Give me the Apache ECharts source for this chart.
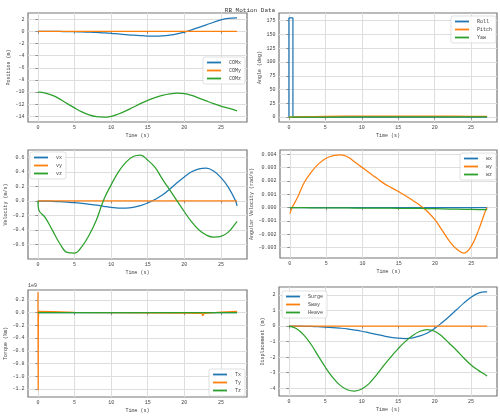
<!DOCTYPE html>
<html>
<head>
<meta charset="utf-8">
<script src="https://cdn.jsdelivr.net/npm/echarts@6/dist/echarts.min.js"></script>
<style>
	html, body { margin: 0; padding: 0; background: #fff; }
	#chart { width: 500px; height: 416px; }
</style>
</head>
<body>
<div id="chart"></div>
<script>
	// time base (s)
	var t = [0, 1, 2, 3, 4, 5, 6, 7, 8, 9, 10, 11, 12, 13, 14, 15, 16, 17, 18, 19, 20, 21, 22, 23, 24, 25, 26, 27, 27.2];
	var tEnds = [0, 27.2];

	// position
	var comX = [0, 0, -0.01, -0.02, -0.04, -0.06, -0.09, -0.13, -0.18, -0.25, -0.33, -0.43, -0.53, -0.63, -0.71, -0.77, -0.79, -0.74, -0.62, -0.42, -0.12, 0.25, 0.65, 1.07, 1.5, 1.88, 2.12, 2.2, 2.2];
	var comY = [0, 0];
	var comZ = [-10, -10.15, -10.55, -11.15, -11.9, -12.6, -13.25, -13.75, -14.05, -14.12, -13.98, -13.6, -13.1, -12.5, -11.9, -11.35, -10.9, -10.55, -10.3, -10.18, -10.25, -10.55, -10.98, -11.45, -11.9, -12.3, -12.65, -13.0, -13.1];

	// angles
	var tRoll = [0, 0, 0.55, 0.55, 27.2];
	var roll = [0, 180, 180, 0, 0];
	var tPitch = [0, 2, 5, 10, 15, 20, 25, 27.2];
	var pitch = [0, 0.6, 1.2, 1.6, 1.8, 1.7, 1.4, 1.3];
	var yaw = [0, 0, 0, 0.1, 0.1, 0.1, 0.1, 0.1];

	// velocity
	var vx = [0, -0.003, -0.007, -0.012, -0.018, -0.025, -0.035, -0.047, -0.06, -0.075, -0.09, -0.1, -0.1, -0.09, -0.065, -0.03, 0.02, 0.08, 0.16, 0.25, 0.33, 0.4, 0.44, 0.45, 0.41, 0.32, 0.19, 0.0, -0.07];
	var vy = [0, 0];
	var tVz = [0, 0.1, 1, 2, 3, 4, 5, 6, 7, 8, 9, 10, 11, 12, 13, 14, 15, 16, 17, 18, 19, 20, 21, 22, 23, 24, 25, 26, 27, 27.2];
	var vz = [0, -0.12, -0.23, -0.41, -0.59, -0.71, -0.72, -0.63, -0.47, -0.26, 0.02, 0.22, 0.40, 0.53, 0.61, 0.63, 0.56, 0.46, 0.3, 0.15, 0, -0.15, -0.29, -0.4, -0.47, -0.5, -0.49, -0.43, -0.31, -0.28];

	// angular velocity
	var wx = [0, 0];
	var tWy = [0, 0.3, 1, 2, 3, 4, 5, 6, 7, 8, 9, 10, 11, 12, 13, 14, 15, 16, 17, 18, 19, 20, 21, 22, 23, 24, 25, 26, 27, 27.2];
	var wy = [-0.00045, 0, 0.0007, 0.0019, 0.0027, 0.0033, 0.0037, 0.0039, 0.00395, 0.0038, 0.0034, 0.003, 0.0026, 0.0022, 0.0018, 0.0015, 0.0012, 0.00088, 0.00052, 0.00015, -0.0003, -0.0009, -0.0017, -0.0025, -0.0031, -0.0034, -0.0029, -0.0017, -0.0002, 0];
	var wz = [0, 0, 0, -0.00001, -0.00001, -0.00001, -0.00002, -0.00002, -0.00002, -0.00003, -0.00003, -0.00003, -0.00004, -0.00004, -0.00004, -0.00005, -0.00005, -0.00006, -0.00006, -0.00007, -0.00008, -0.00009, -0.0001, -0.00011, -0.00012, -0.00013, -0.00014, -0.00015, -0.00015];

	// torque (Nm)
	var tx = [0, 0];
	var tTy = [0, 0, 0.03, 0.06, 0.1, 0.3, 2, 5, 10, 15, 20, 22.4, 22.5, 22.6, 22.7, 25, 27.2];
	var ty = [0, 3.2e8, -1.22e9, -1e8, 2e7, 2e7, 1.5e7, 5e6, 0, -3e6, -8e6, -1e7, -5e7, -5e7, -1e7, 1e7, 2e7];
	var tz = [0, 0];

	// displacement
	var surge = [0, 0, -0.01, -0.02, -0.04, -0.06, -0.09, -0.13, -0.18, -0.25, -0.33, -0.43, -0.53, -0.63, -0.72, -0.78, -0.8, -0.75, -0.63, -0.44, -0.15, 0.22, 0.62, 1.05, 1.48, 1.86, 2.12, 2.2, 2.2];
	var sway = [0, 0];
	var heave = [0, -0.15, -0.55, -1.15, -1.9, -2.65, -3.3, -3.8, -4.1, -4.18, -4.05, -3.7, -3.15, -2.55, -1.98, -1.45, -0.98, -0.6, -0.33, -0.22, -0.33, -0.65, -1.1, -1.55, -2.05, -2.5, -2.85, -3.15, -3.22];

	// tick labels
	var xTicks = [0, 5, 10, 15, 20, 25];
	var posTicks = [-14, -12, -10, -8, -6, -4, -2, 0, 2];
	var angTicks = [0, 25, 50, 75, 100, 125, 150, 175];
	var velTicks = [-0.6, -0.4, -0.2, 0, 0.2, 0.4, 0.6];
	var angVelTicks = [-0.003, -0.002, -0.001, 0, 0.001, 0.002, 0.003, 0.004];
	var torqueTicks = [-1.2e9, -1.0e9, -0.8e9, -0.6e9, -0.4e9, -0.2e9, 0, 0.2e9];
	var dispTicks = [-4, -3, -2, -1, 0, 1, 2];

	var C1 = '#1f77b4', C2 = '#ff7f0e', C3 = '#2ca02c';
	var FONT = 'Liberation Mono';
	var TXT = '#444';

	function pairs(xs, ys) {
		return xs.map(function (x, i) { return [x, ys[i]]; });
	}

	var grids = [], xAxes = [], yAxes = [], legends = [], series = [];

	function panel(box, yMin, yMax, yTicks, yFmt, yName, yGap, names, legendPos, lines, smooth) {
		var i = grids.length;
		grids.push({ left: box[0], top: box[1], width: box[2], height: box[3], show: true, borderColor: '#777', borderWidth: 1.2, backgroundColor: '#fff' });
		xAxes.push({
			type: 'value', gridIndex: i, min: -1.36, max: 28.56,
			name: 'Time (s)', nameLocation: 'middle', nameGap: 11,
			nameTextStyle: { fontFamily: FONT, fontSize: 5, color: TXT },
			axisLine: { show: false },
			axisTick: { show: true, length: 2.5, customValues: xTicks, lineStyle: { color: '#777', width: 0.8 } },
			axisLabel: { customValues: xTicks, fontFamily: FONT, fontSize: 5, color: TXT, margin: 3.5 },
			splitLine: { show: true, lineStyle: { color: '#dedede', width: 1 } }
		});
		yAxes.push({
			type: 'value', gridIndex: i, min: yMin, max: yMax,
			name: yName, nameLocation: 'middle', nameGap: yGap, nameRotate: 90,
			nameTextStyle: { fontFamily: FONT, fontSize: 5, color: TXT },
			axisLine: { show: false },
			axisTick: { show: true, length: 2.5, customValues: yTicks, lineStyle: { color: '#777', width: 0.8 } },
			axisLabel: { customValues: yTicks, formatter: yFmt, fontFamily: FONT, fontSize: 5, color: TXT, margin: 3.5 },
			splitLine: { show: true, lineStyle: { color: '#dedede', width: 1 } }
		});
		var lg = {
			data: names, orient: 'vertical', icon: 'rect', itemWidth: 14, itemHeight: 1.8, itemGap: 3,
			padding: [3, 4, 3, 4], borderColor: '#ccc', borderWidth: 0.6, borderRadius: 2,
			backgroundColor: 'rgba(255,255,255,0.85)',
			textStyle: { fontFamily: FONT, fontSize: 5, color: TXT, padding: [0, 0, 0, 3] }
		};
		for (var k in legendPos) lg[k] = legendPos[k];
		legends.push(lg);
		var cols = [C1, C2, C3];
		lines.forEach(function (d, j) {
			series.push({
				name: names[j], type: 'line', xAxisIndex: i, yAxisIndex: i,
				data: d, showSymbol: false, smooth: smooth[j] ? 0.4 : false,
				lineStyle: { color: cols[j], width: 1.25 }, itemStyle: { color: cols[j] }, z: 2 + j
			});
		});
	}

	function fmtInt(v) { return String(Math.round(v)); }

	panel([28, 13, 219, 109], -14.92, 3.02, posTicks, fmtInt, 'Position (m)', 15,
		['COMx', 'COMy', 'COMz'], { right: 255, top: 57 },
		[pairs(t, comX), pairs(tEnds, comY), pairs(t, comZ)], [1, 0, 1]);
	panel([279, 13, 218, 109], -9, 189, angTicks, fmtInt, 'Angle (deg)', 15,
		['Roll', 'Pitch', 'Yaw'], { right: 4, top: 16 },
		[pairs(tRoll, roll), pairs(tPitch, pitch), pairs(tPitch, yaw)], [0, 1, 0]);
	panel([28, 150, 219, 109], -0.8, 0.7, velTicks, function (v) { return v.toFixed(1); }, 'Velocity (m/s)', 16,
		['vx', 'vy', 'vz'], { left: 30, top: 152 },
		[pairs(t, vx), pairs(tEnds, vy), pairs(tVz, vz)], [1, 0, 1]);
	panel([280, 150, 217, 108], -0.00377, 0.00432, angVelTicks, function (v) { return v.toFixed(3); }, 'Angular Velocity (rad/s)', 21,
		['wx', 'wy', 'wz'], { right: 4, top: 153 },
		[pairs(tEnds, wx), pairs(tWy, wy), pairs(t, wz)], [0, 1, 0]);
	panel([28, 290, 219, 107], -1.327e9, 0.357e9, torqueTicks, function (v) { return (v / 1e9).toFixed(1); }, 'Torque (Nm)', 16,
		['Tx', 'Ty', 'Tz'], { right: 255, top: 369 },
		[pairs(tEnds, tx), pairs(tTy, ty), pairs(tEnds, tz)], [0, 0, 0]);
	panel([279, 287, 218, 109], -4.5, 2.52, dispTicks, fmtInt, 'Displacement (m)', 12,
		['Surge', 'Sway', 'Heave'], { left: 282, top: 291 },
		[pairs(t, surge), pairs(tEnds, sway), pairs(t, heave)], [1, 0, 1]);

	var chart = echarts.init(document.getElementById('chart'), null, { renderer: 'canvas' });
	chart.setOption({
		animation: false,
		title: { text: 'RB Motion Data', left: 'center', top: 2, textStyle: { fontFamily: FONT, fontSize: 6, fontWeight: 'normal', color: '#333' } },
		graphic: [{ type: 'text', left: 28, top: 283, style: { text: '1e9', fontFamily: FONT, fontSize: 5, fill: TXT } }],
		grid: grids,
		xAxis: xAxes,
		yAxis: yAxes,
		legend: legends,
		series: series
	});
</script>
</body>
</html>
